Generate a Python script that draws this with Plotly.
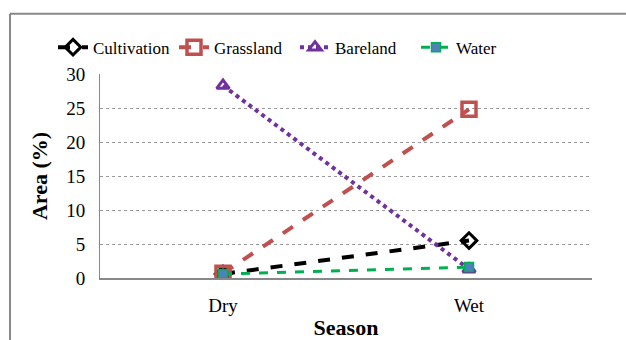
import plotly.graph_objects as go

seasons = ["Dry", "Wet"]
cultivation = [0.6, 5.5]
grassland = [0.7, 24.8]
bareland = [28.3, 1.3]
water = [0.6, 1.6]
y_ticks = [0, 5, 10, 15, 20, 25, 30]

fig = go.Figure()
xs = [0, 1]
fig.add_trace(go.Scatter(x=xs, y=cultivation, name="Cultivation", mode="lines+markers",
                         line=dict(color="black", width=4, dash="dash"),
                         marker=dict(symbol="diamond-open", size=12, color="black", line=dict(width=3))))
fig.add_trace(go.Scatter(x=xs, y=grassland, name="Grassland", mode="lines+markers",
                         line=dict(color="#C0504D", width=4, dash="dash"),
                         marker=dict(symbol="square-open", size=14, color="#C0504D", line=dict(width=3.5))))
fig.add_trace(go.Scatter(x=xs, y=bareland, name="Bareland", mode="lines+markers",
                         line=dict(color="#7030A0", width=4, dash="dot"),
                         marker=dict(symbol="triangle-up-open", size=11, color="#7030A0", line=dict(width=3))))
fig.add_trace(go.Scatter(x=xs, y=water, name="Water", mode="lines+markers",
                         line=dict(color="#00B050", width=3, dash="dash"),
                         marker=dict(symbol="square", size=9, color="#4F81BD", line=dict(color="#00B050", width=1.5))))

L, R, T, B = 100, 34, 73.5, 61.5
W, H = 626, 340
pw, ph = W - L - R, H - T - B
serif = "Liberation Serif, Times New Roman"

fig.update_layout(
    width=W, height=H,
    margin=dict(l=L, r=R, t=T, b=B),
    paper_bgcolor="white", plot_bgcolor="white",
    showlegend=True,
    legend=dict(orientation="h", x=(53 - L) / pw, xanchor="left", y=1 + (T - 47) / ph, yanchor="middle",
                font=dict(family=serif, size=17, color="black"),
                entrywidth=76, entrywidthmode="pixels",
                tracegroupgap=0, bgcolor="rgba(0,0,0,0)"),
    xaxis=dict(range=[-0.5, 1.5], tickvals=xs, ticktext=seasons, showgrid=False, automargin=False,
               showline=True, linecolor="#888888", linewidth=1.5, zeroline=False, ticks="",
               tickfont=dict(family=serif, size=19, color="black"), ticklabelstandoff=9,
               title=dict(text="<b>Season</b>", standoff=10,
                          font=dict(family=serif, size=22, color="black"))),
    yaxis=dict(range=[0, 30], tickvals=y_ticks, showgrid=True, gridcolor="#999999", griddash="dot",
               gridwidth=1, showline=True, linecolor="#888888", linewidth=1, zeroline=False, ticks="",
               tickfont=dict(family=serif, size=19, color="black"), automargin=False,
               ticklabelstandoff=10,
               title=dict(text="<b>Area (%)</b>", standoff=12,
                          font=dict(family=serif, size=22, color="black"))),
)

# outer frame
fig.add_shape(type="line", xref="paper", yref="paper",
              x0=(10 - L) / pw, x1=(10 - L) / pw, y0=1 + (T - 13) / ph, y1=-B / ph - 0.1,
              line=dict(color="#888888", width=2))
fig.add_shape(type="line", xref="paper", yref="paper",
              x0=(10 - L) / pw, x1=1 + R / pw + 0.1, y0=1 + (T - 13) / ph, y1=1 + (T - 13) / ph,
              line=dict(color="#888888", width=2))

fig.write_html("out.html")
